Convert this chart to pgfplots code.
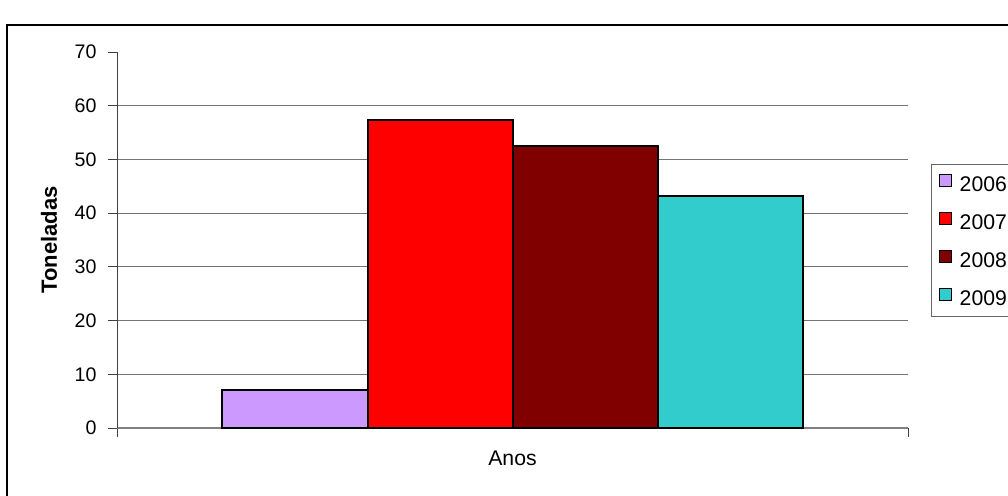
\documentclass[border=0pt]{standalone}
\usepackage{pgfplots}
\pgfplotsset{compat=1.18}
\usepackage{fontspec}
\setmainfont{Liberation Sans}
\definecolor{c2006}{HTML}{CC99FF}
\definecolor{c2007}{HTML}{FF0000}
\definecolor{c2008}{HTML}{800000}
\definecolor{c2009}{HTML}{33CCCC}
\begin{document}
\begin{tikzpicture}
\path[use as bounding box] (0,0) rectangle (504pt,247.5pt);
\draw[line width=1.4pt] (3.5pt,-20pt) -- (3.5pt,235pt) -- (530pt,235pt);
\begin{axis}[
  at={(58.5pt,33.5pt)}, anchor=south west,
  scale only axis, width=395.5pt, height=188pt,
  font=\fontsize{9.8pt}{11pt}\selectfont,
  /pgf/number format/assume math mode=true,
  ybar=0pt, bar width=72.5pt,
  xmin=0, xmax=2, ymin=0, ymax=70,
  xtick={0,2}, xticklabels={,},
  ytick={0,10,...,60},
  extra y ticks={70}, extra y tick style={grid=none},
  ymajorgrids,
  grid style={gray!90!black, line width=0.5pt},
  axis x line*=bottom, axis y line*=left,
  x axis line style={draw=gray, line width=1pt, -},
  y axis line style={draw=black!75, line width=0.5pt, -},
  tick align=outside, major tick length=4.5pt,
  tick style={black!75, line width=0.5pt},
  yticklabel style={xshift=-2.2pt},
  every axis x label/.style={at={(axis description cs:0.5,0)}, anchor=center, yshift=-15pt, font=\fontsize{10.6pt}{12pt}\selectfont},
  every axis y label/.style={at={(axis description cs:-0.086,0.5)}, rotate=90, anchor=center, font=\fontsize{11pt}{13pt}\selectfont\bfseries},
  xlabel={Anos},
  ylabel={Toneladas},
  legend style={at={(1.029,0.702)}, anchor=north west, draw=gray!80!black, line width=0.6pt,
    font=\fontsize{10.6pt}{12pt}\selectfont, row sep=0pt, column sep=4pt,
    inner xsep=3.5pt, inner ysep=0pt,
    nodes={inner sep=0pt, text height=13.3pt, text depth=5.7pt},
    cells={anchor=west}},
  legend image code/.code={\draw[#1, draw=black, line width=0.6pt] (0pt,-1.5pt) rectangle (6pt,4.5pt);},
]
\addplot[fill=c2006, draw=black, line width=1pt] coordinates {(1,7.0)};
\addplot[fill=c2007, draw=black, line width=1pt] coordinates {(1,57.3)};
\addplot[fill=c2008, draw=black, line width=1pt] coordinates {(1,52.5)};
\addplot[fill=c2009, draw=black, line width=1pt] coordinates {(1,43.2)};
\legend{2006,2007,2008,2009}
\end{axis}
\end{tikzpicture}
\end{document}
